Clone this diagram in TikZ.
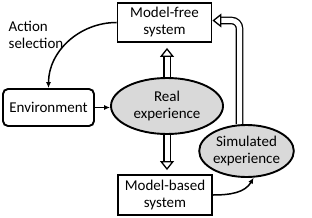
\documentclass[tikz,border=0pt]{standalone}
\usepackage{fontspec}
\setmainfont{Carlito}
\usepackage{xcolor}
\usepackage{tikz}
\usetikzlibrary{arrows.meta,positioning,shapes.geometric,backgrounds}

\definecolor{expgray}{HTML}{D9D9D9}

\begin{document}
\begin{tikzpicture}[x=1pt,y=1pt,>=Latex,font=\fontsize{15}{17}\selectfont]
\tikzstyle{sysbox}=[rectangle,draw=black,line width=1.9pt,minimum width=94pt,minimum height=39pt,inner sep=0pt,align=center]
\tikzstyle{envbox}=[sysbox,rounded corners=5pt,minimum width=91pt,minimum height=37pt]
\tikzstyle{expnode}=[ellipse,draw=black,fill=expgray,line width=1.9pt,inner sep=0pt,align=center]
\tikzstyle{conn}=[line width=1.5pt,-{Latex[length=6pt,width=5pt]}]
\tikzstyle{hollow}=[double,double distance=5pt,line width=1.3pt,
  -{Triangle[open,length=9pt,width=14pt,line width=1.3pt]}]
\useasboundingbox (0,0) rectangle (312,217);
% nodes
\node[sysbox] (mf) at (164.5,194.5) {Model-free\\system};
\node[envbox] (env) at (48.5,109.5) {Environment};
\node[expnode,minimum width=112pt,minimum height=56pt] (real) at (167,111) {Real\\experience};
\node[sysbox,minimum height=40pt] (mb) at (165,22) {Model-based\\system};
\node[expnode,minimum width=93pt,minimum height=52pt] (sim) at (246.5,66) {Simulated\\experience};
\node[align=left,inner sep=0pt] (act) at (36,182) {Action\\selection};
% connectors
\draw[conn] (mf.west) to[out=180,in=90] (env.north);
\draw[conn] (env.east) -- (env.east -| real.west);
\draw[conn] (mb.east) to[out=0,in=240] (sim.-75);
\begin{scope}[on background layer]
\draw[hollow,shorten >=5pt] (real.north) -- (real.north |- mf.south);
\draw[hollow,shorten >=4pt] (real.south) -- (real.south |- mb.north);
\draw[hollow,rounded corners=8pt] ([xshift=-7pt]sim.north) |- ([yshift=2pt]mf.east);
\end{scope}
\end{tikzpicture}
\end{document}
